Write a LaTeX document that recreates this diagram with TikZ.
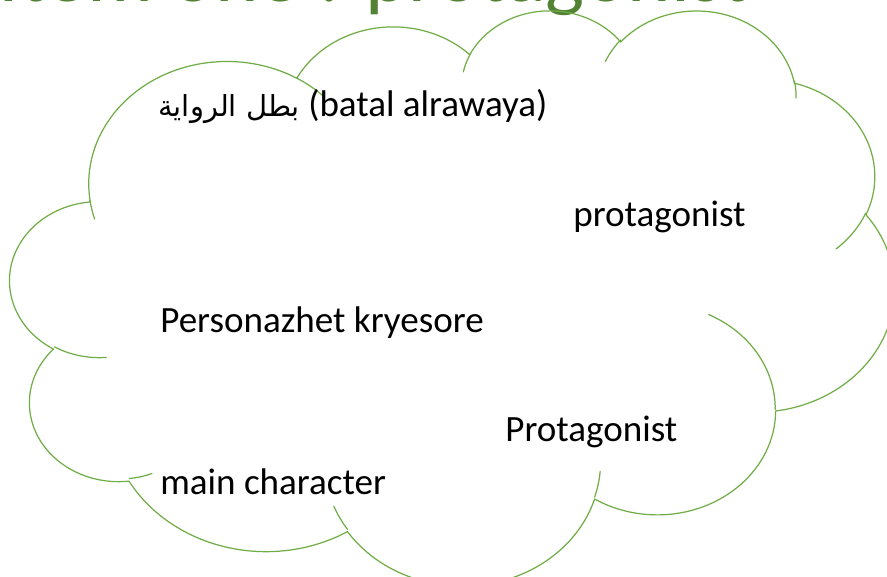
\documentclass[tikz,border=0pt]{standalone}
\usepackage{fontspec}
\setmainfont{Carlito}
\newfontfamily\arabicfont[Script=Arabic]{DejaVu Sans}
\TeXXeTstate=1
\usepackage{tikz}
\definecolor{cloudgreen}{HTML}{70AD47}
\definecolor{titlegreen}{HTML}{548235}

\begin{document}
\begin{tikzpicture}[x=0.02cm, y=-0.02cm, line cap=round,
    declare function={pa(\w,\h,\a)=atan2(\w*sin(\a),\h*cos(\a));
                      da(\w,\h,\a,\s)=mod(pa(\w,\h,\a+\s)-pa(\w,\h,\a)+720,360);},
    cloudline/.style={draw=cloudgreen, line width=0.7pt, line join=round},
    lobe/.style n args={4}{insert path={arc[x radius=#1, y radius=#2,
        start angle={pa(#1,#2,#3)}, delta angle={da(#1,#2,#3,#4)}]}},
    word/.style={anchor=base west, inner sep=0pt, font=\fontsize{21.1}{25}\selectfont}]
  \useasboundingbox (0,0) rectangle (887,577);
  \clip (0,0) rectangle (887,577);
  % slide title, mostly cut off above the frame
  \node[anchor=base west, inner sep=0pt, text=titlegreen,
        font=\fontsize{47}{56}\selectfont] (title) at (-2,2) {Item one : protagonist};
  % cloud outline (eleven elliptic lobes)
  \begin{scope}[shift={(10.2,9)}, x=0.04094cm, y=-0.02662cm]
    \draw[cloudline] (39.00,143.70)
      [lobe={67.53}{91.90}{-190.48748}{123.78053}]
      [lobe={53.33}{72.67}{-144.10238}{89.94523}]
      [lobe={43.65}{59.45}{-145.80792}{99.72302}]
      [lobe={48.57}{65.95}{-130.98607}{117.24173}]
      [lobe={53.33}{72.73}{-78.70888}{109.02692}]
      [lobe={67.75}{92.20}{-46.26725}{130.269}]
      [lobe={57.85}{78.67}{0.62502}{114.03333}]
      [lobe={67.52}{92.15}{22.4516}{115.17255}]
      [lobe={77.20}{105.43}{66.24263}{75.71102}]
      [lobe={43.60}{59.18}{-274.94208}{146.73557}]
      [lobe={43.45}{59.45}{-246.8285}{152.51885}] -- cycle;
    % short inner arcs at the joins
    \foreach \px/\py/\w/\h/\a/\s in {
        46.93/261.77/43.45/59.45/86.742/26.4295,
        69.28/348.99/43.60/59.18/73.61047/11.44747,
        164.78/390.90/67.52/92.15/137.62415/14.0811,
        288.27/347.51/67.52/92.15/6.45327/15.99835,
        341.29/229.54/57.85/78.67/-70.29235/70.91737,
        417.98/153.54/53.33/72.73/30.31803/27.7515,
        383.24/54.26/48.57/65.95/-13.74433/14.8589,
        290.78/39.52/48.57/65.95/-149.18145/18.19537,
        221.41/47.20/43.65/59.45/-163.49427/17.68635,
        140.00/51.92/67.53/91.90/-66.70695/12.31935,
        41.27/157.89/67.53/91.90/157.65435/11.85817}
      \draw[cloudline] (\px,\py) [lobe={\w}{\h}{\a}{\s}];
  \end{scope}
  % terms inside the cloud
  \node[word] (arabic) at (158,117)
    {{\arabicfont\fontsize{16.5}{20}\selectfont\beginR بطل الرواية\endR} (batal alrawaya)};
  \node[word] (protag) at (573,227) {protagonist};
  \node[word] (persona) at (160,333) {Personazhet kryesore};
  \node[word] (Protag) at (505,442) {Protagonist};
  \node[word] (mainchar) at (160,495) {main character};
\end{tikzpicture}
\end{document}
